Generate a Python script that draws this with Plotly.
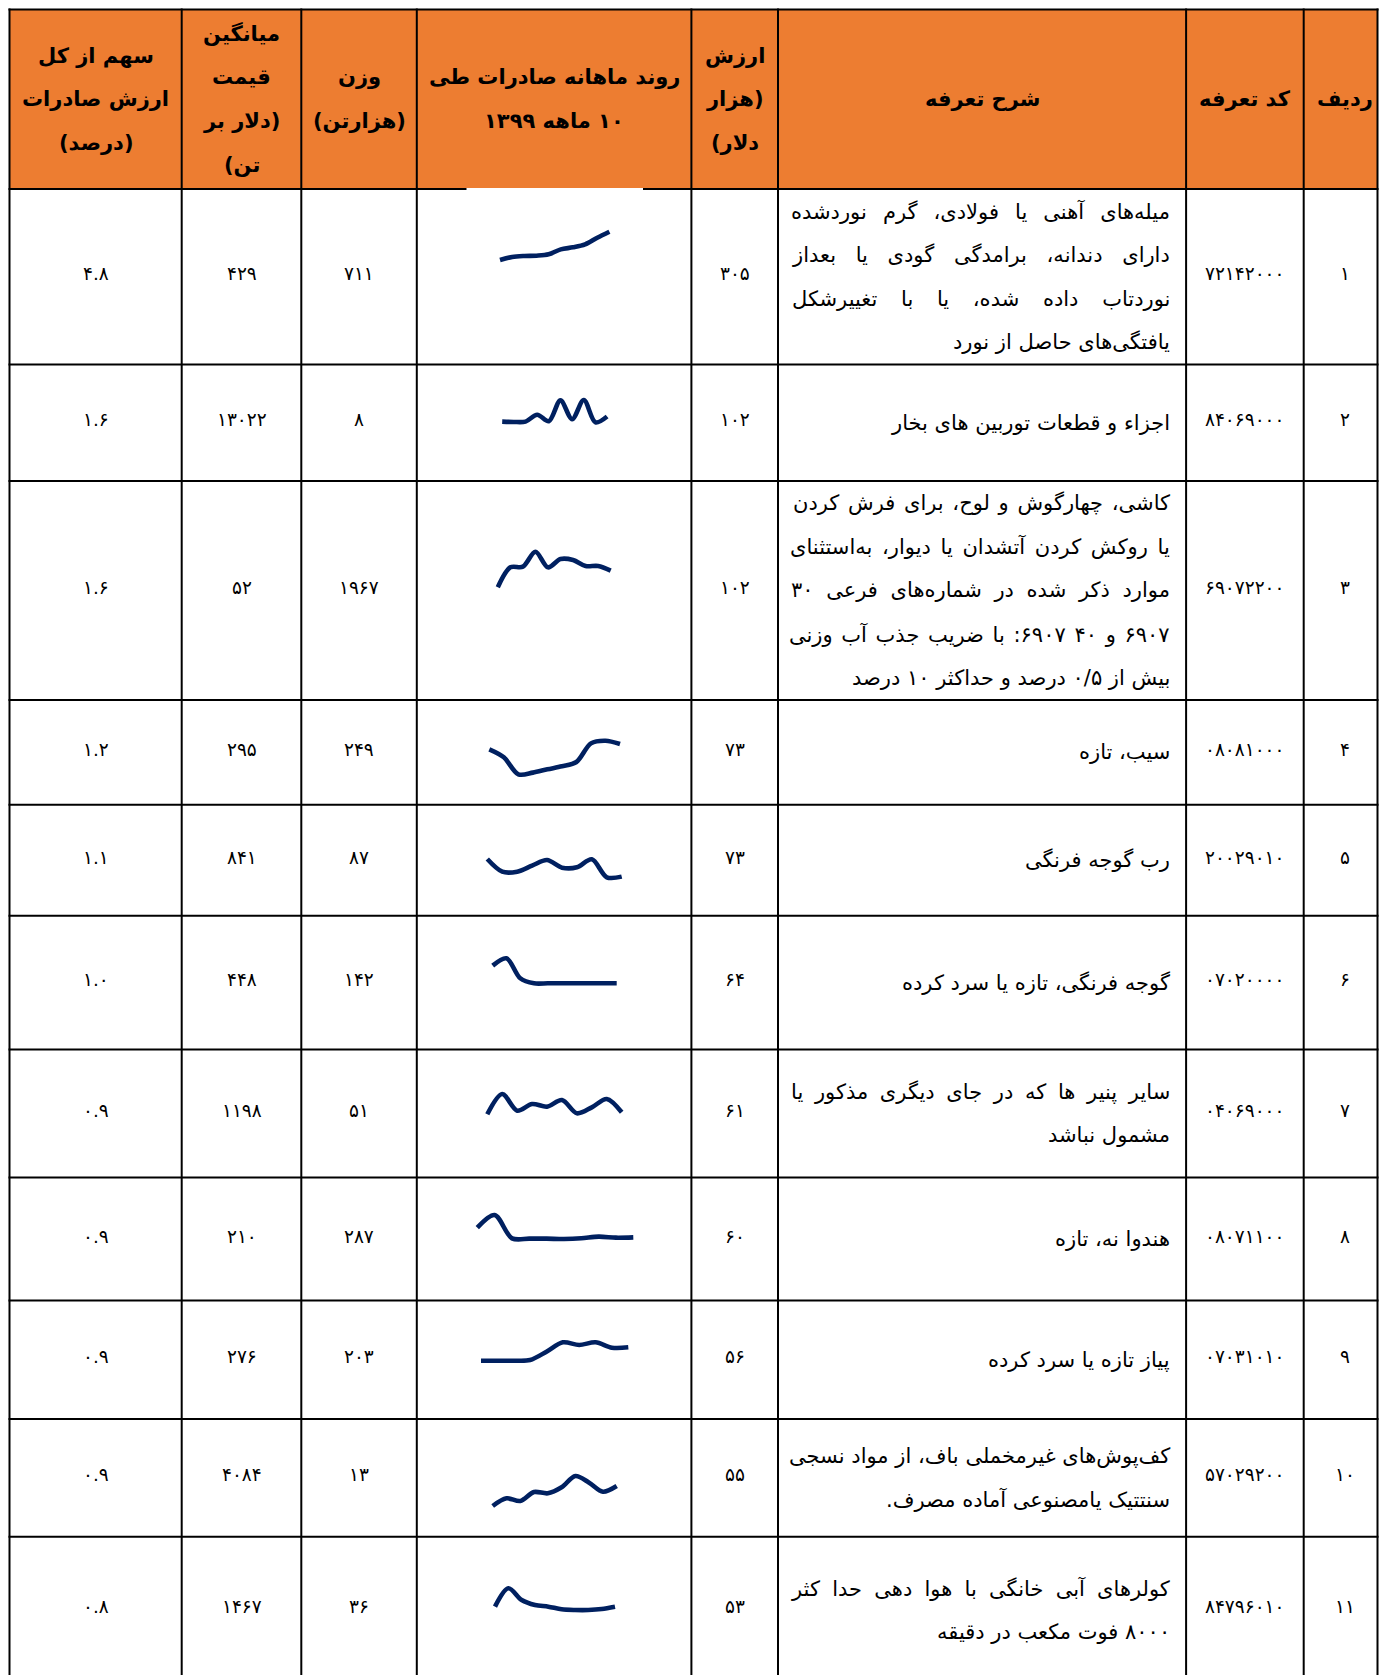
import plotly.graph_objects as go

# ---------------- data ----------------
headers = [  # columns, left to right
    ["سهم از کل", "ارزش صادرات", "(درصد)"],
    ["میانگین", "قیمت", "(دلار بر", "تن)"],
    ["وزن", "(هزارتن)"],
    ["روند ماهانه صادرات طی", "۱۰ ماهه ۱۳۹۹"],
    ["ارزش", "(هزار", "دلار)"],
    ["شرح تعرفه"],
    ["کد تعرفه"],
    ["ردیف"],
]

row_no = [1, 2, 3, 4, 5, 6, 7, 8, 9, 10, 11]
tariff_codes = ["72142000", "84069000", "69072200", "08081000", "20029010", "07020000",
                "04069000", "08071100", "07031010", "57029200", "84796010"]
descriptions = [
    ["میله‌های آهنی یا فولادی، گرم نوردشده", "دارای دندانه، برامدگی گودی یا بعداز",
     "نوردتاب داده شده، یا با تغییرشکل", "یافتگی‌های حاصل از نورد"],
    ["اجزاء و قطعات توربین های بخار"],
    ["کاشی، چهارگوش و لوح، برای فرش کردن", "یا روکش کردن آتشدان یا دیوار، به‌استثنای",
     "موارد ذکر شده در شماره‌های فرعی ۳۰", "۶۹۰۷ و ۴۰ ۶۹۰۷: با ضریب جذب آب وزنی",
     "بیش از ۰/۵ درصد و حداکثر ۱۰ درصد"],
    ["سیب، تازه"],
    ["رب گوجه فرنگی"],
    ["گوجه فرنگی، تازه یا سرد کرده"],
    ["سایر پنیر ها که در جای دیگری مذکور یا", "مشمول نباشد"],
    ["هندوا نه، تازه"],
    ["پیاز تازه یا سرد کرده"],
    ["کف‌پوش‌های غیرمخملی باف، از مواد نسجی", "سنتتیک یامصنوعی آماده مصرف."],
    ["کولرهای آبی خانگی با هوا دهی حدا کثر", "۸۰۰۰ فوت مکعب در دقیقه"],
]
export_value = [305, 102, 102, 73, 73, 64, 61, 60, 56, 55, 53]          # هزار دلار
weight_kt = [711, 8, 1967, 249, 87, 142, 51, 287, 203, 13, 36]          # هزار تن
avg_price = [429, 13022, 52, 295, 841, 448, 1198, 210, 276, 4084, 1467]  # دلار بر تن
share_pct = ["4.8", "1.6", "1.6", "1.2", "1.1", "1.0", "0.9", "0.9", "0.9", "0.9", "0.8"]

months = [1, 2, 3, 4, 5, 6, 7, 8, 9, 10]
monthly_trend = [
    [0, 9, 12, 13, 17, 32, 38, 47, 67, 85],
    [2, 1, 2, 22, 3, 64, 9, 65, 0, 17],
    [0, 60, 62, 107, 60, 85, 82, 64, 64, 50],
    [77, 53, 2, 7, 17, 26, 39, 95, 103, 93],
    [58, 20, 20, 38, 55, 32, 33, 57, 3, 5],
    [53, 75, 15, 0, 0, 0, 0, 0, 0, 0],
    [2, 63, 13, 33, 25, 45, 5, 23, 48, 8],
    [37, 75, 5, 4, 4, 3, 5, 10, 7, 8],
    [3, 3, 3, 5, 30, 58, 50, 58, 42, 43],
    [2, 25, 17, 44, 40, 58, 92, 72, 45, 62],
    [12, 67, 32, 17, 12, 4, 2, 2, 5, 12],
]

# ---------------- layout / style ----------------
W, H = 1387, 1675
OFF = 8            # page body margin
VISIBLE_RIGHT = 1377.5  # rightmost page x that is shown
col_edges = [9.5, 181.7, 301.3, 416.8, 691.4, 778.0, 1186.1, 1303.7, 1386.0]
row_edges = [9.5, 189.0, 364.4, 480.9, 700.0, 804.7, 915.8, 1049.4, 1177.6,
             1300.5, 1419.1, 1536.7, 1683.0]
# sparkline boxes in page pixels: (x_first, x_last, y_of_max, y_of_min)
spark_boxes = [
    (500.0, 609.4, 231.7, 260.0),
    (502.2, 607.1, 400.0, 422.3),
    (497.8, 610.7, 551.7, 587.3),
    (489.3, 620.0, 740.7, 774.3),
    (487.3, 621.7, 859.0, 877.3),
    (492.7, 616.7, 958.3, 983.3),
    (487.3, 621.7, 1094.0, 1114.3),
    (477.3, 633.3, 1215.0, 1239.0),
    (481.0, 628.3, 1342.3, 1360.7),
    (492.7, 616.7, 1476.0, 1506.0),
    (495.0, 615.0, 1588.3, 1610.0),
]
# word spacing (px) used to justify description lines
desc_word_spacing = [
    [9.4, 13, 17, 0], [0], [2, 3, 6, 2, 0], [0], [0], [0], [5, 0], [0], [0], [0, 0], [5.6, 0],
]
LS = 43.6
ORANGE = "#ED7D31"
NAVY = "#002060"
FONT = "DejaVu Sans"
RLM = "\u200f"
FA = str.maketrans("0123456789", "۰۱۲۳۴۵۶۷۸۹")


def fa(v):
    return str(v).translate(FA)


def px(x):
    return (x - OFF) / W


def py(y):
    return 1 - (y - OFF) / H


fig = go.Figure()
shapes = []
annotations = []

right_edge = min(col_edges[-1], VISIBLE_RIGHT)

# header background
shapes.append(dict(type="rect", xref="paper", yref="paper",
                   x0=px(col_edges[0]), x1=px(right_edge),
                   y0=py(row_edges[1]), y1=py(row_edges[0]),
                   fillcolor=ORANGE, line_width=0, layer="above"))
# grid
for x in col_edges:
    xx = min(x, VISIBLE_RIGHT)
    shapes.append(dict(type="line", xref="paper", yref="paper",
                       x0=px(xx), x1=px(xx), y0=py(row_edges[0] - 1), y1=py(row_edges[-1]),
                       line=dict(color="black", width=2), layer="above"))
for y in row_edges:
    shapes.append(dict(type="line", xref="paper", yref="paper",
                       x0=px(col_edges[0] - 1), x1=px(right_edge + 1), y0=py(y), y1=py(y),
                       line=dict(color="black", width=2), layer="above"))
# small gap in the border above the first sparkline cell
shapes.append(dict(type="rect", xref="paper", yref="paper",
                   x0=px(466.5), x1=px(643), y0=py(190.3), y1=py(188.0),
                   fillcolor="white", line_width=0, layer="above"))


def add_lines(lines, xc, yc, size, anchor="center", bold=False, spacing=None):
    n = len(lines)
    for i, t in enumerate(lines):
        txt = RLM + t + RLM
        if spacing and spacing[i]:
            txt = '<span style="word-spacing:%.1fpx">%s</span>' % (spacing[i], txt)
        if bold:
            txt = "<b>" + txt + "</b>"
        annotations.append(dict(
            xref="paper", yref="paper", x=px(xc), y=py(yc + (i - (n - 1) / 2) * LS),
            text=txt, showarrow=False, xanchor=anchor, yanchor="middle",
            font=dict(family=FONT, size=size, color="black")))


# header texts
for c, lines in enumerate(headers):
    xc = (col_edges[c] + col_edges[c + 1]) / 2
    yc = (row_edges[0] + row_edges[1]) / 2
    add_lines(lines, xc, yc, 21, bold=True)

# body
for r in range(len(row_no)):
    yc = (row_edges[r + 1] + row_edges[r + 2]) / 2
    cells = [share_pct[r], avg_price[r], weight_kt[r], None, export_value[r],
             None, tariff_codes[r], row_no[r]]
    for c, v in enumerate(cells):
        if v is None:
            continue
        xc = (col_edges[c] + col_edges[c + 1]) / 2
        annotations.append(dict(
            xref="paper", yref="paper", x=px(xc), y=py(yc - 3),
            text=fa(v), showarrow=False, xanchor="center", yanchor="middle",
            font=dict(family=FONT, size=18.5, color="black")))
    add_lines(descriptions[r], col_edges[6] - 14, yc, 21, anchor="right",
              spacing=desc_word_spacing[r])

# sparklines
PAD_X, PAD_Y = 8, 10
for k, vals in enumerate(monthly_trend):
    x0, x1, ytop, ybot = spark_boxes[k]
    ux = (months[-1] - months[0]) / (x1 - x0)
    vmin, vmax = min(vals), max(vals)
    uy = (vmax - vmin) / (ybot - ytop)
    suffix = "" if k == 0 else str(k + 1)
    fig.add_trace(go.Scatter(
        x=months, y=vals, mode="lines",
        line=dict(color=NAVY, width=4.6, shape="spline", smoothing=0.9),
        xaxis="x" + suffix, yaxis="y" + suffix, hoverinfo="skip", showlegend=False))
    fig.layout["xaxis" + suffix] = dict(
        domain=[px(x0 - PAD_X), px(x1 + PAD_X)],
        range=[months[0] - PAD_X * ux, months[-1] + PAD_X * ux],
        visible=False, fixedrange=True, anchor="y" + suffix)
    fig.layout["yaxis" + suffix] = dict(
        domain=[py(ybot + PAD_Y), py(ytop - PAD_Y)],
        range=[vmin - PAD_Y * uy, vmax + PAD_Y * uy],
        visible=False, fixedrange=True, anchor="x" + suffix)

fig.update_layout(
    width=W, height=H, margin=dict(l=0, r=0, t=0, b=0),
    paper_bgcolor="white", plot_bgcolor="rgba(0,0,0,0)",
    shapes=shapes, annotations=annotations, showlegend=False,
    font=dict(family=FONT), autosize=False,
)

fig.write_html("out.html", config={"displayModeBar": False, "responsive": False})
